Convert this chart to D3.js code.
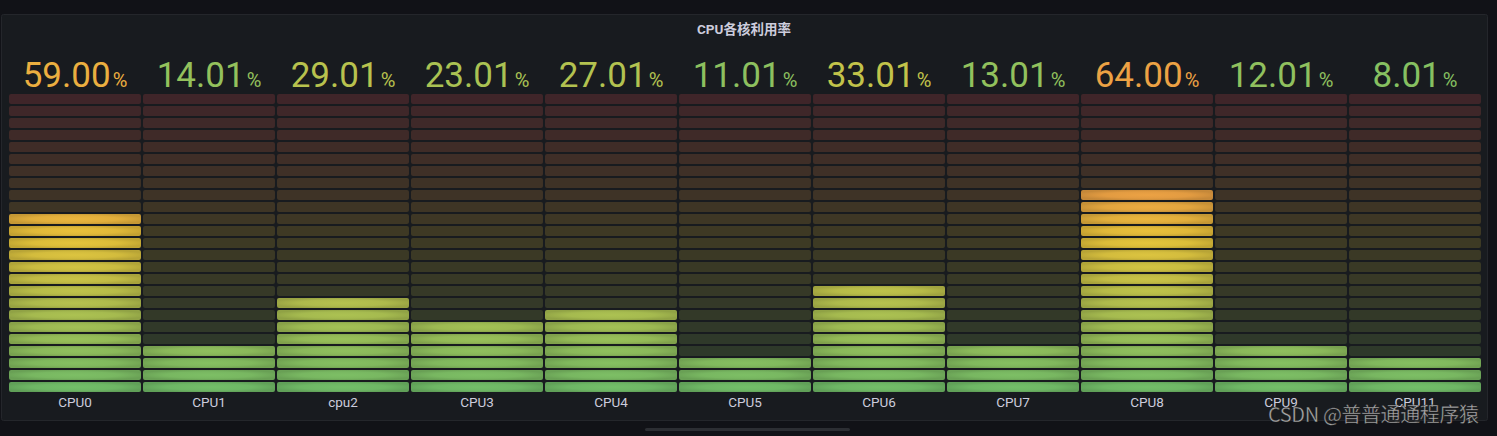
<!DOCTYPE html>
<html><head><meta charset="utf-8">
<script src="https://cdn.jsdelivr.net/npm/d3@7"></script>
<style>
html,body{margin:0;padding:0;background:#111217;}
svg{display:block;font-family:Roboto,"Noto Sans CJK SC",sans-serif;}
</style></head>
<body>
<svg id="c" width="1497" height="436"></svg>
<script>
const categories = ["CPU0","CPU1","cpu2","CPU3","CPU4","CPU5","CPU6","CPU7","CPU8","CPU9","CPU11"];
const values = [59.00,14.01,29.01,23.01,27.01,11.01,33.01,13.01,64.00,12.01,8.01];
const title = "CPU各核利用率";
const unit = "%";
const minValue = 0, maxValue = 100, cellCount = 25;
const palette = ["#73BF69","#EAC53A","#F2495C"];

const W = 1497, H = 436;
const svg = d3.select("#c");
const defs = svg.append("defs");

svg.append("rect").attr("width",W).attr("height",H).attr("fill","#111217");
svg.append("rect").attr("x",1.5).attr("y",14.5).attr("width",1486).attr("height",406)
  .attr("rx",2).attr("fill","#181b1f").attr("stroke","#24262b");
svg.append("rect").attr("x",645).attr("y",428).attr("width",205).attr("height",3).attr("rx",1.5).attr("fill","#2c2e33");

svg.append("text").attr("x",744).attr("y",34).attr("text-anchor","middle")
  .attr("font-size",13.5).attr("font-weight",700).attr("fill","#ccccdc").text(title);

const colorAt = d3.scaleLinear().domain([0,0.5,1]).range(palette).interpolate(d3.interpolateRgb);

const x = d3.scaleBand().domain(categories).range([9,1481]).paddingInner(0.015).paddingOuter(0);
const cellIdx = d3.range(cellCount);
const y = d3.scaleBand().domain(cellIdx).range([392, 94]).paddingInner(2/12).paddingOuter(0);
const bg = d3.rgb("#181b1f");

function cellColor(i){ return colorAt((minValue + (maxValue-minValue)/cellCount*i - minValue)/(maxValue-minValue)); }

cellIdx.forEach(i=>{
  const c = d3.rgb(cellColor(i));
  const g = defs.append("radialGradient").attr("id","g"+i).attr("cx","50%").attr("cy","50%").attr("r","55%");
  g.append("stop").attr("offset","0%").attr("stop-color",c.formatHex());
  g.append("stop").attr("offset","60%").attr("stop-color",c.darker(0.12).formatHex());
  g.append("stop").attr("offset","100%").attr("stop-color",c.darker(0.5).formatHex());
});

const cols = svg.selectAll("g.col").data(categories.map((c,k)=>({name:c,value:values[k]})))
  .enter().append("g").attr("class","col");

cols.each(function(d){
  const g = d3.select(this);
  const x0 = x(d.name), bw = x.bandwidth();
  cellIdx.forEach(i=>{
    const cv = minValue + (maxValue-minValue)/cellCount*i;
    const col = d3.rgb(cellColor(i));
    const lit = !(cv > d.value);
    const r = g.append("rect").attr("x",x0).attr("y",y(i)).attr("width",bw).attr("height",y.bandwidth()).attr("rx",2);
    if(lit){
      r.attr("fill","url(#g"+i+")");
    } else {
      const a=0.18;
      r.attr("fill", d3.rgb(bg.r+(col.r-bg.r)*a, bg.g+(col.g-bg.g)*a, bg.b+(col.b-bg.b)*a).formatHex());
    }
  });
  const vc = colorAt((d.value-minValue)/(maxValue-minValue));
  const t = g.append("text").attr("x",x0+bw/2).attr("y",87).attr("text-anchor","middle").attr("fill",vc);
  t.append("tspan").attr("font-size",35).text(d.value.toFixed(2));
  t.append("tspan").attr("font-size",20).attr("dx",2).text(unit);
  g.append("text").attr("x",x0+bw/2).attr("y",406.5).attr("text-anchor","middle")
   .attr("font-size",13.5).attr("fill","#ccccdc").text(d.name);
});

svg.append("text").attr("x",1268).attr("y",422).attr("font-size",20)
  .attr("textLength",211).attr("lengthAdjust","spacing")
  .attr("font-family","'Noto Sans CJK SC',sans-serif").attr("fill","#c4c4c4").attr("fill-opacity",0.85)
  .attr("stroke","#1a1a1a").attr("stroke-width",0.4).text("CSDN @普普通通程序猿");
</script>
</body></html>
